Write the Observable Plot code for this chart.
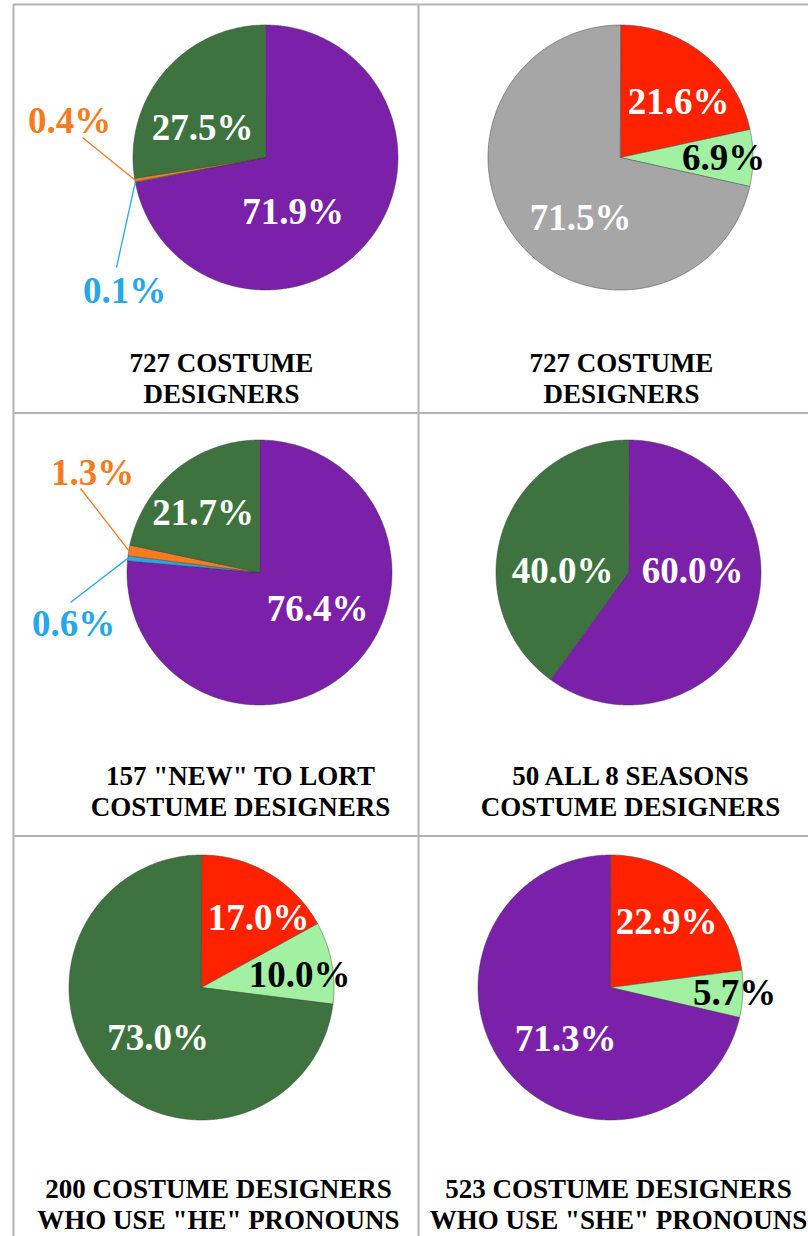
<!DOCTYPE html>
<html>
<head>
<meta charset="utf-8">
<script src="https://cdn.jsdelivr.net/npm/d3@7"></script>
<script src="https://cdn.jsdelivr.net/npm/@observablehq/plot@0.6"></script>
<style>
  html, body { margin: 0; padding: 0; background: #fff; }
  #chart svg { display: block; }
</style>
</head>
<body>
<div id="chart"></div>
<script>
// ---------- DATA ----------
const genderCategories = ["She/her", "Unknown", "They/them", "He/him"];
const raceCategories = ["BIPOC", "Multiracial", "White"];
const seasonsCategories = ["She/her", "He/him"];

const allGenderValues = [71.9, 0.1, 0.4, 27.5];
const allRaceValues = [21.6, 6.9, 71.5];
const newGenderValues = [76.4, 0.6, 1.3, 21.7];
const seasonsValues = [60.0, 40.0];
const heRaceValues = [17.0, 10.0, 73.0];
const sheRaceValues = [22.9, 5.7, 71.3];

const panelTitles = [
  ["727 COSTUME", "DESIGNERS"],
  ["727 COSTUME", "DESIGNERS"],
  ["157 \"NEW\" TO LORT", "COSTUME DESIGNERS"],
  ["50 ALL 8 SEASONS", "COSTUME DESIGNERS"],
  ["200 COSTUME DESIGNERS", "WHO USE \"HE\" PRONOUNS"],
  ["523 COSTUME DESIGNERS", "WHO USE \"SHE\" PRONOUNS"]
];

// ---------- STYLES ----------
const genderPalette = ["#7b20a8", "#27a7ea", "#f47b20", "#3e7340"];
const racePalette = ["#ff2200", "#a2f0a2", "#a6a6a6"];
const seasonsPalette = ["#7b20a8", "#3e7340"];
const heRacePalette = ["#ff2200", "#a2f0a2", "#3e7340"];
const sheRacePalette = ["#ff2200", "#a2f0a2", "#7b20a8"];

const genderLabelColors = ["#ffffff", "#27a7ea", "#f47b20", "#ffffff"];
const raceLabelColors = ["#ffffff", "#000000", "#ffffff"];
const seasonsLabelColors = ["#ffffff", "#ffffff"];

// ---------- LAYOUT ----------
const W = 808, H = 1236;
const R = 132.5;
const gridX = [13, 418, 823];
const gridY = [4, 412.5, 835.5];
const layout = [
  {cx: 265, cy: 157, title: [221, 377],
   labels: [[27.5, 55], [-141, 134], [-196, -36], [-63, -29]],
   leaders: [null, [-8, -24], [13, 16], null]},
  {cx: 620, cy: 157, title: [621, 377],
   labels: [[58, -55], [103, 1], [-40, 61]], leaders: [null, null, null]},
  {cx: 259, cy: 572, title: [240, 790.5],
   labels: [[58, 37], [-186, 52], [-167, -99.5], [-56.5, -59.5]],
   leaders: [null, [-3, -22], [-12, 15.5], null]},
  {cx: 628, cy: 572, title: [630, 790],
   labels: [[64, -1], [-66, -1]], leaders: [null, null]},
  {cx: 201, cy: 987, title: [218, 1203],
   labels: [[57, -69.5], [98, -12], [-43.5, 50.5]], leaders: [null, null, null]},
  {cx: 610, cy: 987, title: [618, 1203],
   labels: [[56, -65], [124, 6], [-45, 52]], leaders: [null, null, null]}
];

const panels = [
  {cats: genderCategories, vals: allGenderValues, pal: genderPalette, lab: genderLabelColors},
  {cats: raceCategories, vals: allRaceValues, pal: racePalette, lab: raceLabelColors},
  {cats: genderCategories, vals: newGenderValues, pal: genderPalette, lab: genderLabelColors},
  {cats: seasonsCategories, vals: seasonsValues, pal: seasonsPalette, lab: seasonsLabelColors},
  {cats: raceCategories, vals: heRaceValues, pal: heRacePalette, lab: raceLabelColors},
  {cats: raceCategories, vals: sheRaceValues, pal: sheRacePalette, lab: raceLabelColors}
];

// ---------- BUILD MARK DATA ----------
const slicePoints = [];
const labelRows = [];
const leaderRows = [];
const titleRows = [];

panels.forEach((p, pi) => {
  const L = layout[pi];
  const total = d3.sum(p.vals);
  let acc = 0;
  p.vals.forEach((v, i) => {
    const a0 = acc / total * 2 * Math.PI;
    acc += v;
    const a1 = acc / total * 2 * Math.PI;
    const key = pi + "-" + i;
    const color = p.pal[i];
    slicePoints.push({key, color, x: L.cx, y: L.cy});
    const n = Math.max(2, Math.ceil((a1 - a0) / (Math.PI / 360)));
    for (let k = 0; k <= n; k++) {
      const a = a0 + (a1 - a0) * k / n;
      slicePoints.push({key, color, x: L.cx + R * Math.sin(a), y: L.cy - R * Math.cos(a)});
    }
    const lx = L.cx + L.labels[i][0], ly = L.cy + L.labels[i][1];
    labelRows.push({x: lx, y: ly, text: v.toFixed(1) + "%", fill: p.lab[i]});
    if (L.leaders[i]) {
      const am = (a0 + a1) / 2;
      leaderRows.push({
        x1: lx + L.leaders[i][0], y1: ly + L.leaders[i][1],
        x2: L.cx + R * Math.sin(am), y2: L.cy - R * Math.cos(am),
        stroke: color
      });
    }
  });
  titleRows.push({x: L.title[0], y: L.title[1], text: panelTitles[pi].join("\n")});
});

const serif = "Liberation Serif";

const chart = Plot.plot({
  width: W,
  height: H,
  margin: 0,
  x: {domain: [0, W], range: [0, W], axis: null},
  y: {domain: [0, H], range: [0, H], axis: null},
  color: {type: "identity"},
  marks: [
    Plot.ruleX(gridX, {y1: gridY[0], y2: H, stroke: "#b4b4b4", strokeWidth: 2}),
    Plot.ruleY(gridY, {x1: gridX[0], x2: W, stroke: "#b4b4b4", strokeWidth: 2}),
    Plot.line(slicePoints, {
      x: "x", y: "y", z: "key", fill: "color",
      stroke: "#3a3a3a", strokeWidth: 0.6, strokeOpacity: 0.8,
      curve: "linear-closed", strokeLinejoin: "round"
    }),
    Plot.link(leaderRows, {x1: "x1", y1: "y1", x2: "x2", y2: "y2", stroke: "stroke", strokeWidth: 1.3}),
    Plot.text(labelRows, {
      x: "x", y: "y", text: "text", fill: "fill",
      fontSize: 37, fontWeight: "bold", fontFamily: serif
    }),
    Plot.text(titleRows, {
      x: "x", y: "y", text: "text", fill: "#000",
      fontSize: 27, fontWeight: "bold", fontFamily: serif, lineHeight: 1.14
    })
  ]
});

document.getElementById("chart").appendChild(chart);
</script>
</body>
</html>
